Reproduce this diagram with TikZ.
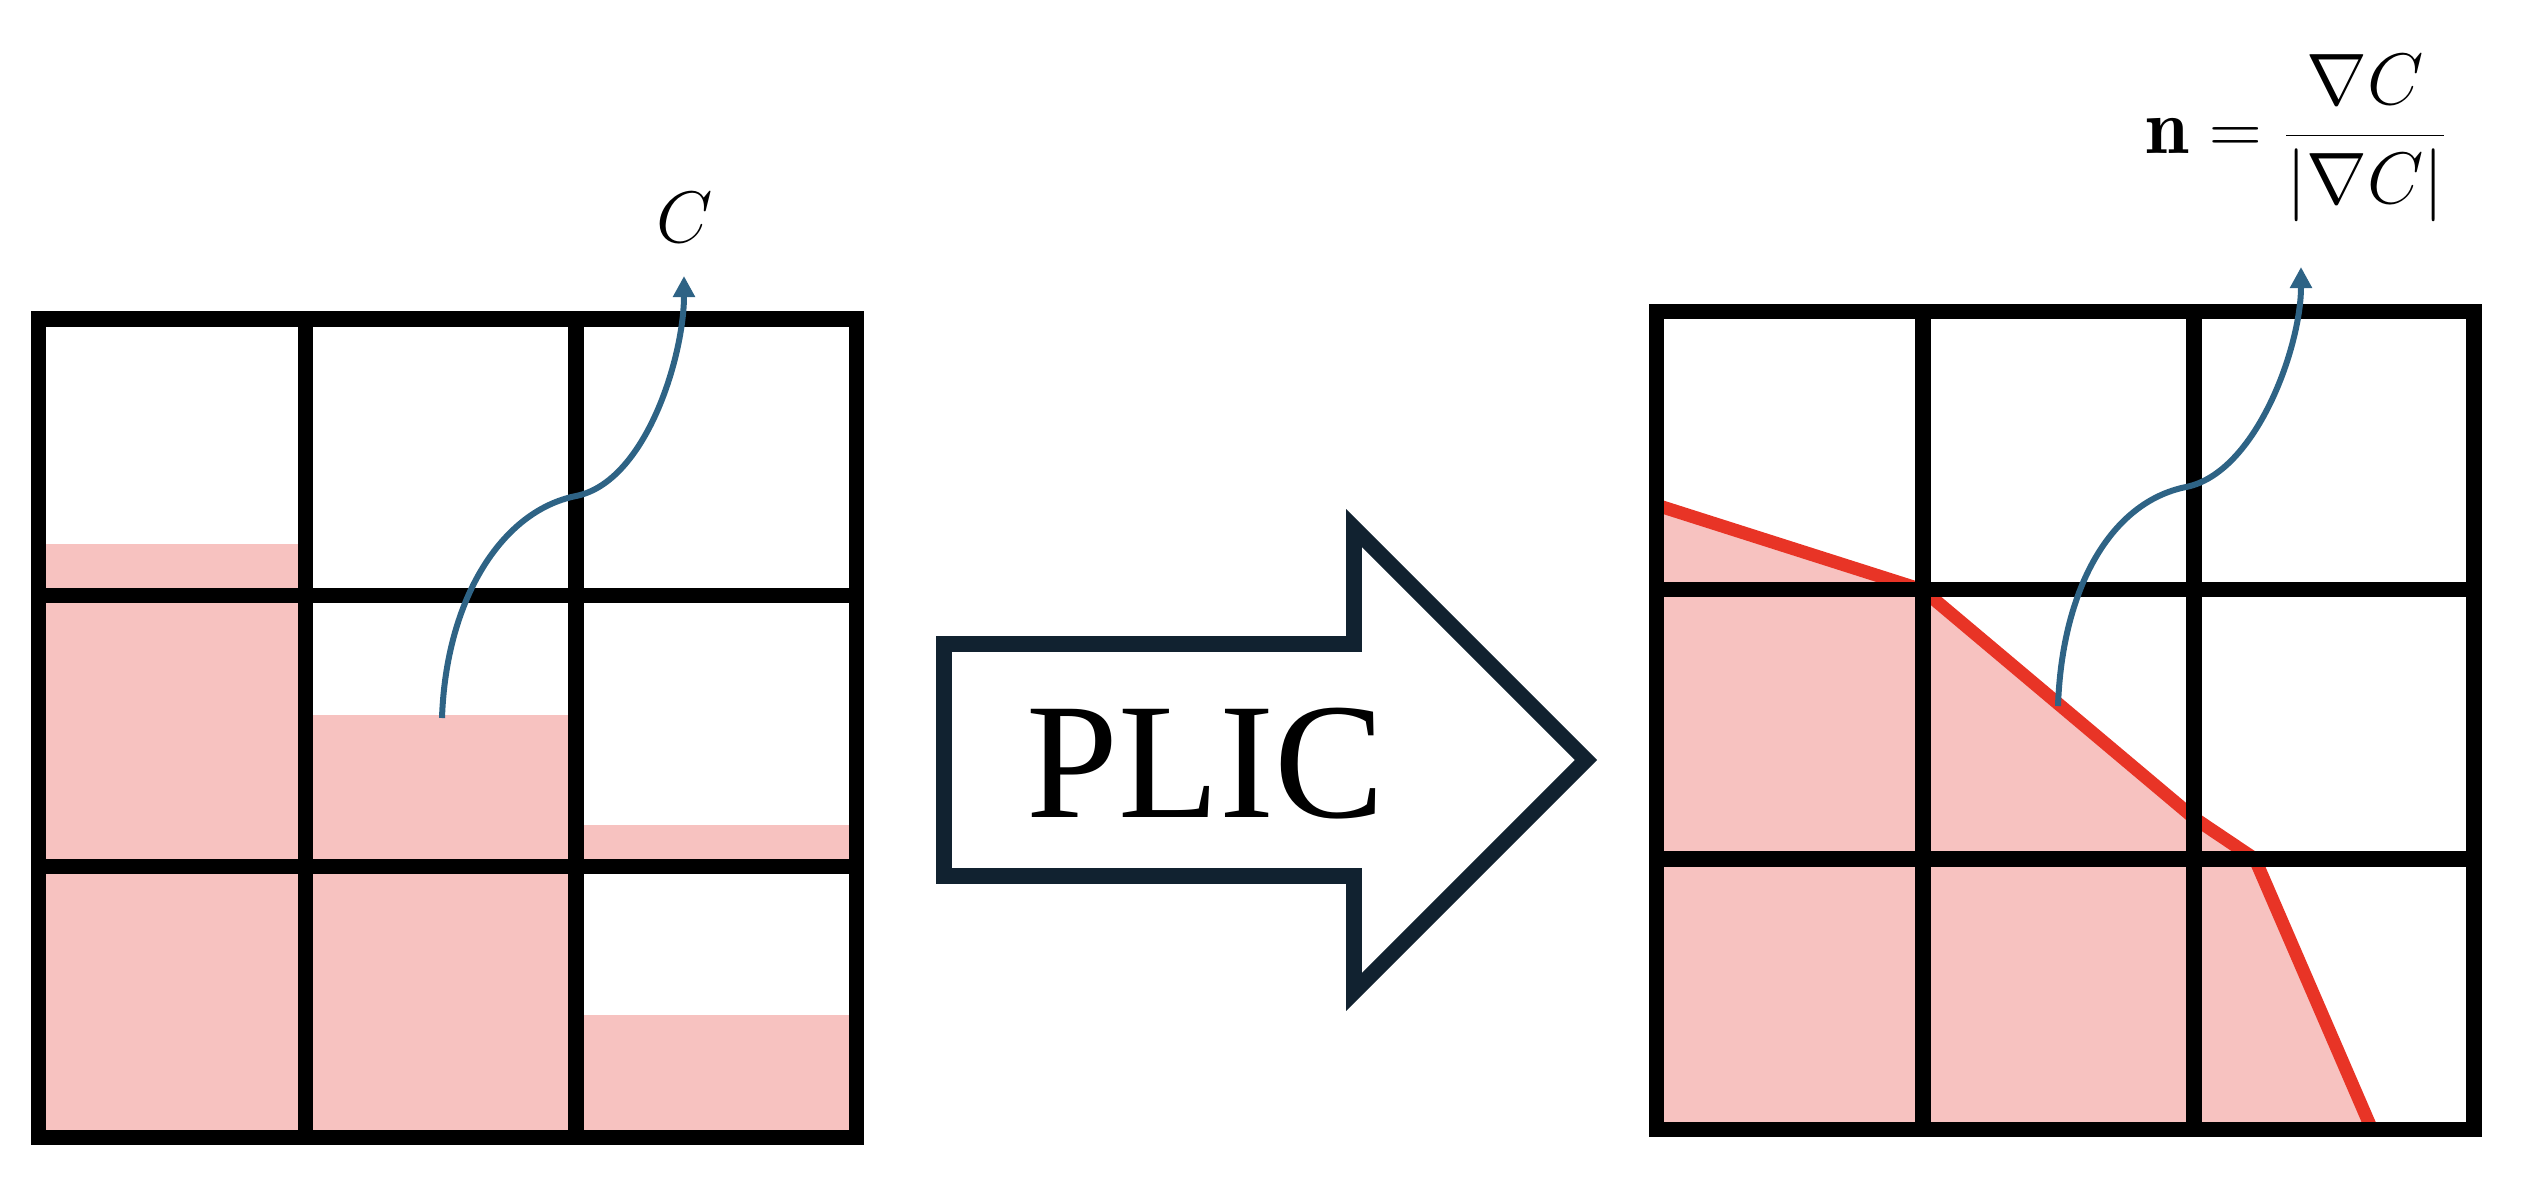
\documentclass[tikz,border=0pt]{standalone}
\usepackage{fontspec}
\newfontfamily\plicfont{Liberation Serif}
\usetikzlibrary{arrows.meta}
\definecolor{liquid}{HTML}{F7C2C0}
\definecolor{iface}{HTML}{E83426}
\definecolor{gradblue}{HTML}{2E6385}
\definecolor{arrowink}{HTML}{112230}
\tikzset{
  cellgrid/.style={line width=0.153cm, black},
  interface/.style={line width=0.13cm, iface},
  gradarrow/.style={line width=0.06cm, gradblue, -{Triangle[length=0.21cm, width=0.21cm]}},
  plicarrow/.style={line width=0.157cm, arrowink},
  mathlabel/.style={font=\fontsize{22.2}{27}\selectfont}
}
\begin{document}
\begin{tikzpicture}[x=0.01cm, y=-0.01cm]
  \useasboundingbox (0,0) rectangle (2526,1184);

  % Volume fractions in the left grid
  \fill[liquid] (38.3,544) rectangle (305.5,1137.5);
  \fill[liquid] (305.5,715) rectangle (576,1137.5);
  \fill[liquid] (576,824.5) rectangle (856.7,866.5);
  \fill[liquid] (576,1014.6) rectangle (856.7,1137.5);

  % Reconstructed interface in the right grid
  \fill[liquid] (1656.2,505) -- (1923,590) -- (2194,818) -- (2255,859) -- (2372,1129.8) -- (1656.2,1129.8) -- cycle;
  \draw[interface] (1656.2,505) -- (1923,590) -- (2194,818) -- (2255,859) -- (2372,1129.8);

  % Draw grids
  \draw[cellgrid] (38.3,319) rectangle (856.7,1137.5);
  \foreach \x in {305.5,576} \draw[cellgrid] (\x,319) -- (\x,1137.5);
  \foreach \y in {595.8,866.5} \draw[cellgrid] (38.3,\y) -- (856.7,\y);
  \draw[cellgrid] (1656.2,311.5) rectangle (2474,1129.8);
  \foreach \x in {1923,2194} \draw[cellgrid] (\x,311.5) -- (\x,1129.8);
  \foreach \y in {589.8,859} \draw[cellgrid] (1656.2,\y) -- (2474,\y);

  % PLIC arrow
  \draw[plicarrow] (944,644) -- (1354,644) -- (1354,528) -- (1586,760) -- (1354,992) -- (1354,876) -- (944,876) -- cycle;
  \node[font=\plicfont\fontsize{47}{56}\selectfont, inner sep=0pt] (plic) at (1206,764) {PLIC};

  % Define labels and arrow ends
  \node[mathlabel] (C) at (685,218) {$C$};
  \node[mathlabel] (normal) at (2297,138) {$\displaystyle\mathbf{n}=\frac{\nabla C}{|\nabla C|}$};
  \coordinate (Cstart) at (442,718);
  \coordinate (Cbend) at (576,496);
  \coordinate (Ctip) at (684,276);
  \coordinate (nstart) at (2058,706);
  \coordinate (nbend) at (2186,487);
  \coordinate (ntip) at (2301,267);

  % Draw arrows
  \draw[gradarrow] (Cstart) .. controls +(4,-118) and +(-75,15) .. (Cbend)
    .. controls +(70,-14) and +(0,80) .. (Ctip);
  \draw[gradarrow] (nstart) .. controls +(4,-118) and +(-75,15) .. (nbend)
    .. controls +(70,-14) and +(0,80) .. (ntip);

\end{tikzpicture}
\end{document}
